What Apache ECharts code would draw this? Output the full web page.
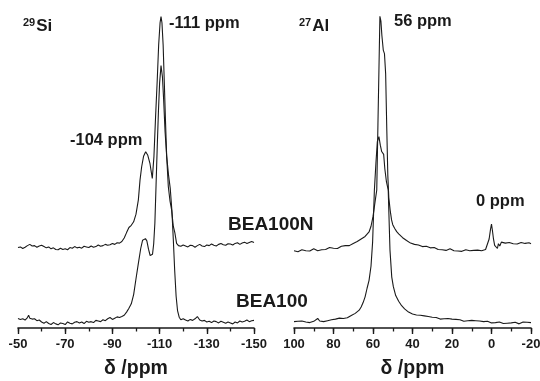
<!DOCTYPE html>
<html><head><meta charset="utf-8">
<script src="https://cdn.jsdelivr.net/npm/echarts@6/dist/echarts.min.js"></script>
<style>html,body{margin:0;padding:0;background:#fff}#c{width:540px;height:381px}</style>
</head><body><div id="c"></div>
<script>
// ---- tick labels ----
var siMajorTicks = [-50, -70, -90, -110, -130, -150];
var alMajorTicks = [100, 80, 60, 40, 20, 0, -20];
var axisTitle = 'δ /ppm';

// ---- 29Si spectra: [ppm, intensity] ----
var siBEA100N = [
[-50,25.3],[-51,25.5],[-52,25.0],[-53,25.4],[-54,25.9],[-55,26.3],[-56,25.8],[-57,25.9],[-58,25.4],[-59,25.8],
[-60,26.0],[-61,25.6],[-62,25.2],[-63,25.5],[-64,24.9],[-65,25.2],[-66,24.7],[-67,24.6],[-68,25.1],[-69,24.7],
[-70,24.9],[-71,24.6],[-72,25.3],[-73,25.1],[-74,25.6],[-75,25.2],[-76,25.4],[-77,25.1],[-78,25.7],[-79,25.5],
[-80,25.3],[-81,25.8],[-82,25.4],[-83,25.6],[-84,26.1],[-85,25.7],[-86,25.9],[-87,26.3],[-88,26.0],[-89,26.2],
[-90,26.6],[-91,26.3],[-92,26.8],[-93,26.7],[-94,27.2],[-95,28.3],[-96,30.0],[-97,31.6],[-98,32.3],[-99,33.4],
[-100,35.8],[-101,40.3],[-101.7,46.5],[-102.4,50.7],[-103.2,54],[-104.1,55.4],[-105,54.3],[-105.9,51.8],[-106.9,47],
[-107.6,53.9],[-108.3,66.5],[-109,78],[-109.6,89],[-110.2,96],[-110.6,97.9],[-111,96],[-111.5,89],[-112,77],
[-112.5,65],[-113,54],[-113.7,44.4],[-114.4,40],[-115.1,37.1],[-115.8,32],[-116.5,29.8],[-117.2,26.6],[-118,25.9],
[-119,25.7],[-120,26.1],[-121,25.8],[-122,25.5],[-123,26.0],[-124,25.9],[-125,25.4],[-126,25.9],[-127,26.3],[-128,25.8],
[-129,25.6],[-130,26.1],[-131,25.9],[-132,26.4],[-133,26.0],[-134,25.8],[-135,26.3],[-136,26.6],[-137,26.2],[-138,26.0],
[-139,26.5],[-140,26.4],[-141,26.1],[-142,26.6],[-143,26.8],[-144,26.3],[-145,26.7],[-146,27.0],[-147,26.6],[-148,26.9],
[-149,27.2],[-150,26.9]
];
var siBEA100 = [
[-50,3.0],[-51,2.7],[-52,2.9],[-53,2.5],[-54,3.3],[-54.5,4.0],[-55,3.1],[-56,2.8],[-57,2.9],[-58,2.3],[-59,2.5],
[-60,1.9],[-61,1.5],[-62,2.0],[-63,1.4],[-64,1.1],[-65,1.7],[-66,1.3],[-67,1.0],[-68,1.6],[-69,1.4],
[-70,1.1],[-71,1.9],[-72,1.5],[-73,1.3],[-74,1.8],[-75,2.0],[-76,1.6],[-77,1.9],[-78,1.4],[-79,2.1],
[-80,1.8],[-81,2.0],[-82,1.7],[-83,2.4],[-84,2.2],[-85,2.0],[-86,2.6],[-87,2.3],[-88,2.9],[-89,3.3],
[-90,2.7],[-91,3.1],[-92,3.5],[-93,3.3],[-94,3.6],[-95,4.0],[-96,5.0],[-97,6.2],[-98,7.6],[-99,10.5],
[-100,15.5],[-101,20.3],[-102,25],[-102.8,27.6],[-103.4,28.2],[-104,28.1],[-104.6,27.4],[-105.3,24.8],[-106,22.8],
[-106.5,22.3],[-107,23.2],[-107.5,26.5],[-108,33],[-108.5,45],[-109,57],[-109.5,68],[-110,77],[-110.6,82.5],
[-111.2,79],[-111.7,72],[-112.3,62],[-113,54],[-113.8,48],[-114.5,44],[-115.2,37],[-115.8,28],[-116.4,18],
[-117,10],[-117.6,5.5],[-118.3,3.4],[-119,2.6],[-120,2.9],[-121,2.5],[-122,2.2],[-123,2.7],[-124,2.4],[-125,2.9],
[-126,3.6],[-127,2.5],[-128,2.2],[-129,2.4],[-130,1.9],[-131,2.1],[-132,1.7],[-133,2.2],[-134,2.0],[-135,1.6],
[-136,2.1],[-137,1.8],[-138,1.5],[-139,1.9],[-140,1.6],[-141,1.3],[-142,1.9],[-143,1.6],[-144,2.2],[-145,1.9],
[-146,2.1],[-147,2.5],[-148,2.0],[-149,2.3],[-150,2.4]
];

// ---- 27Al spectra: [ppm, intensity] ----
var alBEA100N = [
[100,24.3],[99,24.5],[98,24.0],[97,24.4],[96,24.6],[95,24.1],[94,24.3],[93,24.7],[92,24.2],[91,24.5],
[90,24.9],[89,24.5],[88,24.3],[87,24.8],[86,24.6],[85,25.0],[84,24.7],[83,24.9],[82,25.3],[81,24.9],
[80,25.1],[79,25.4],[78,25.0],[77,25.5],[76,25.7],[75,25.4],[74,25.9],[73,26.0],[72,25.9],[71,26.4],
[70,26.6],[69,26.9],[68,27.2],[67,27.6],[66,28.0],[65,28.4],[64,28.8],[63,29.4],[62,30.2],[61,32],
[60,35],[59,39.5],[58.1,43.4],[57.5,64],[57,81],[56.5,98],[56,96.5],[55.5,92],[54.8,87.4],[54.2,86.3],
[53.6,80],[53,62],[52.5,48],[52,41],[51.3,37],[50.6,34],[50,32.5],[49,31.3],[48,30.3],[47,29.6],
[46,29.0],[45,28.4],[44,27.9],[43,27.5],[42,27.0],[41,26.7],[40,26.2],[39,26.3],[38,25.9],[37,26.1],
[36,25.5],[35,25.6],[34,25.3],[33,25.7],[32,25.1],[31,25.2],[30,24.9],[29,25.3],[28,24.8],[27,24.7],
[26,25.1],[25,24.6],[24,24.8],[23,24.4],[22,24.6],[21,24.9],[20,24.4],[19,24.3],[18,24.7],[17,24.2],
[16,24.5],[15,24.1],[14,24.4],[13,24.6],[12,24.1],[11,24.3],[10,24.0],[9,24.4],[8,24.2],[7,24.5],
[6,24.0],[5,24.3],[4,24.4],[3,24.7],[2,25.3],[1.2,28],[0.5,31],[0,32.7],[-0.5,30.5],[-1,28],
[-1.6,26],[-2.2,25.5],[-3,25.0],[-3.5,26.5],[-4.2,25.8],[-5,27.0],[-6,26.5],[-7,26.7],[-8,26.3],[-9,26.9],
[-10,26.6],[-11,26.5],[-12,26.8],[-13,26.4],[-14,26.6],[-15,26.9],[-16,26.5],[-17,26.6],[-18,26.3],[-19,26.8],[-20,26.5]
];
var alBEA100 = [
[100,2.0],[99,2.3],[98,2.1],[97,1.8],[96,2.2],[95,2.4],[94,1.9],[93,2.1],[92,1.7],[91,2.3],
[90,2.1],[89,2.5],[88,3.0],[87,2.2],[86,2.4],[85,2.0],[84,2.6],[83,2.3],[82,2.1],[81,2.6],
[80,2.4],[79,2.8],[78,2.6],[77,3.1],[76,2.8],[75,3.0],[74,3.4],[73,3.2],[72,3.6],[71,3.9],
[70,4.2],[69,4.6],[68,5.1],[67,5.6],[66,6.6],[65,8.0],[64,9.8],[63,12.5],[62,15],[61,19.5],
[60.2,27],[59.3,43.4],[58.5,52],[57.8,58.6],[57,60.2],[56.3,57.5],[55.6,55.5],[54.6,54.6],[54,50],[53.2,46],
[52.3,43.4],[51.4,24.5],[50.5,16],[49.7,13],[48.5,10.2],[47,8.4],[45.5,7.0],[44,6.0],[43,5.5],[42,5.0],
[41,4.8],[40,4.4],[39,4.5],[38,4.1],[37,3.9],[36,4.0],[35,3.6],[34,3.8],[33,3.4],[32,3.6],
[31,3.3],[30,3.4],[29,3.0],[28,3.3],[27,3.1],[26,2.8],[25,3.2],[24,2.9],[23,2.7],[22,3.0],
[21,2.6],[20,2.8],[19,2.5],[18,2.7],[17,2.3],[16,2.6],[15,2.4],[14,2.1],[13,2.5],[12,2.3],
[11,2.0],[10,2.4],[9,2.1],[8,2.3],[7,1.9],[6,2.2],[5,1.8],[4,2.0],[3,1.7],[2,2.1],
[1,1.8],[0,1.6],[-1,2.0],[-2,1.7],[-3,1.5],[-4,1.9],[-5,1.6],[-6,1.4],[-7,1.8],[-8,1.5],
[-9,1.3],[-10,1.6],[-11,1.4],[-12,1.8],[-13,1.5],[-14,1.3],[-15,1.7],[-16,1.9],[-17,1.5],[-18,1.8],[-19,2.0],[-20,1.7]
];

var FONT = '"Liberation Sans", Arial, Helvetica, sans-serif';
var INK = '#1a1a1a';

function mainAxis(grid, min, max, majors) {
  return {
    type: 'value', gridIndex: grid, min: min, max: max, interval: 10, inverse: true,
    position: 'bottom', offset: 0,
    axisLine: { show: true, onZero: false, lineStyle: { color: INK, width: 1.6 } },
    axisTick: { show: true, length: 6, lineStyle: { color: INK, width: 1.4 }, customValues: majors },
    axisLabel: { show: true, customValues: majors, margin: 10, color: INK, fontFamily: FONT, fontWeight: 'bold', fontSize: 13 },
    splitLine: { show: false },
    name: axisTitle, nameLocation: 'middle', nameGap: 31,
    nameTextStyle: { color: INK, fontFamily: FONT, fontWeight: 'bold', fontSize: 19.5 }
  };
}
function minorAxis(grid, min, max) {
  return {
    type: 'value', gridIndex: grid, min: min, max: max, interval: 10, inverse: true,
    position: 'bottom', offset: 0,
    axisLine: { show: false, onZero: false },
    axisTick: { show: true, length: 3.5, lineStyle: { color: INK, width: 1.3 } },
    axisLabel: { show: false }, splitLine: { show: false }
  };
}
function line(data, xi, yi) {
  return { type: 'line', xAxisIndex: xi, yAxisIndex: yi, data: data, showSymbol: false, symbol: 'none',
    lineStyle: { color: INK, width: 1.1 }, silent: true, animation: false, z: 3 };
}
function txt(x, y, t, size) {
  return { type: 'text', left: x, top: y, style: { text: t, fill: INK, font: 'bold ' + size + 'px ' + FONT } };
}
function nucleus(x, mass, sym) {
  return { type: 'text', left: x, top: 17, style: { rich: {
      s: { font: 'bold 11px ' + FONT, fill: INK, verticalAlign: 'top', padding: [0, 1, 7, 0] },
      m: { font: 'bold 17px ' + FONT, fill: INK } }, text: '{s|' + mass + '}{m|' + sym + '}' } };
}

var chart = echarts.init(document.getElementById('c'), null, { renderer: 'canvas' });
chart.setOption({
  backgroundColor: '#fff',
  animation: false,
  grid: [
    { left: 18, right: 286, top: 10, bottom: 53, outerBoundsMode: 'none', containLabel: false },
    { left: 294, right: 9, top: 10, bottom: 53, outerBoundsMode: 'none', containLabel: false }
  ],
  xAxis: [
    mainAxis(0, -150, -50, siMajorTicks),
    minorAxis(0, -150, -50),
    mainAxis(1, -20, 100, alMajorTicks),
    minorAxis(1, -20, 100)
  ],
  yAxis: [
    { type: 'value', gridIndex: 0, min: 0, max: 100, show: false },
    { type: 'value', gridIndex: 1, min: 0, max: 100, show: false }
  ],
  series: [
    line(siBEA100N, 0, 0), line(siBEA100, 0, 0),
    line(alBEA100N, 2, 1), line(alBEA100, 2, 1)
  ],
  graphic: [
    nucleus(23, '29', 'Si'),
    nucleus(299, '27', 'Al'),
    txt(169, 15, '-111 ppm', 16.5),
    txt(70, 132, '-104 ppm', 16.5),
    txt(394, 13, '56 ppm', 16.5),
    txt(476, 193, '0 ppm', 16.5),
    txt(228, 215, 'BEA100N', 19),
    txt(236, 292, 'BEA100', 19)
  ]
});
</script></body></html>
